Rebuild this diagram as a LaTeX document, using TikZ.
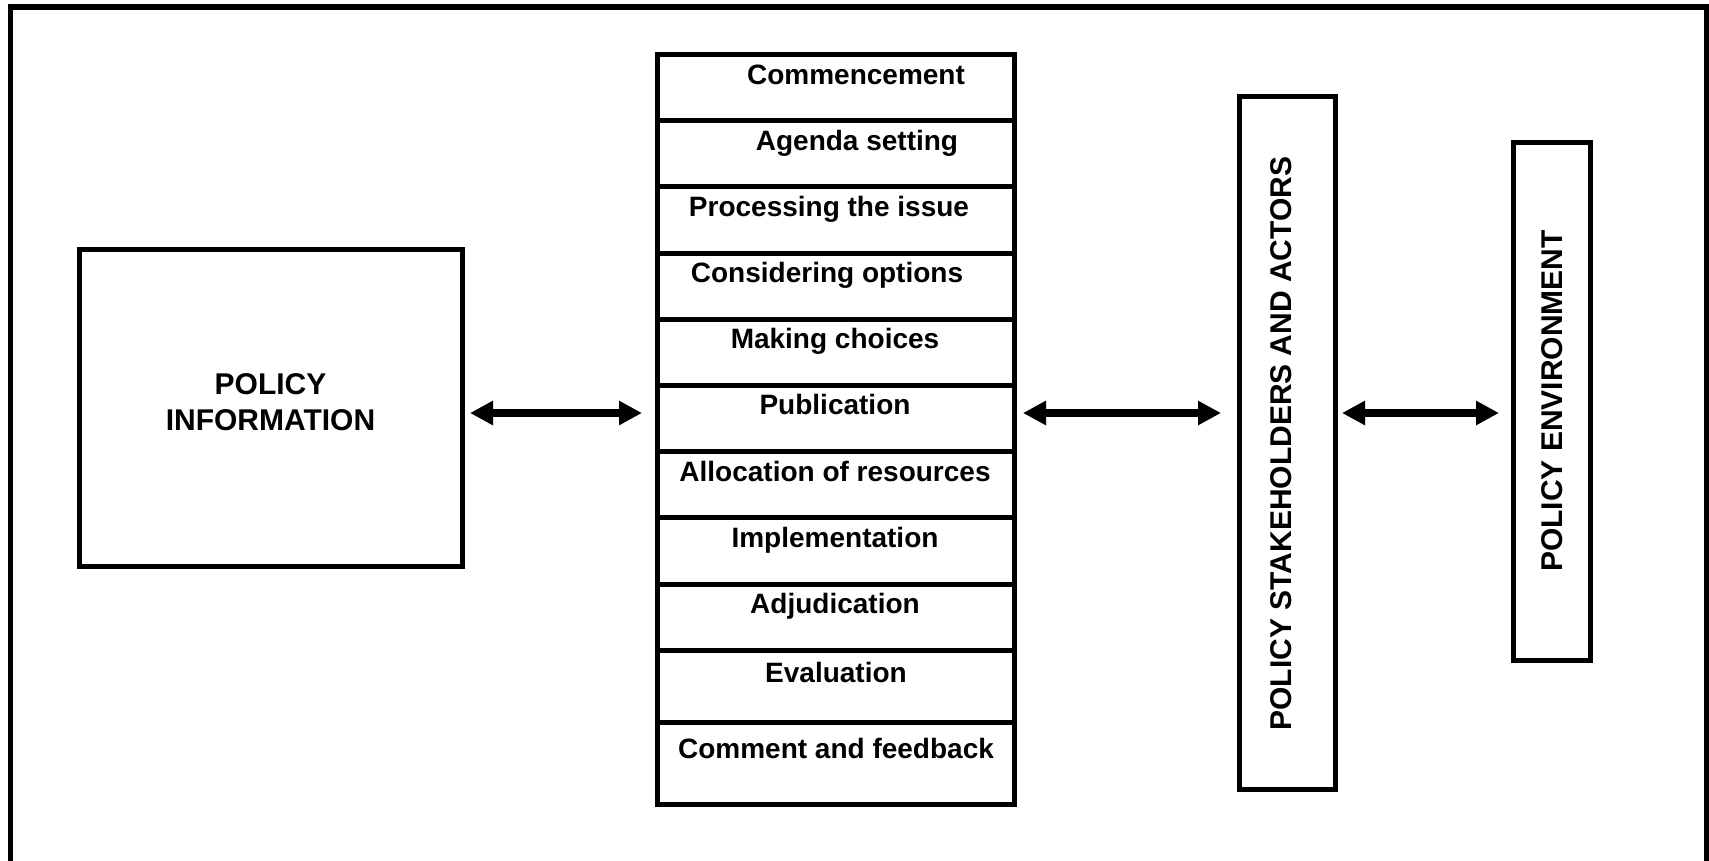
\documentclass[tikz,border=0pt]{standalone}
\usepackage{fontspec}
\setmainfont{Liberation Sans}
\usetikzlibrary{arrows.meta}
\tikzset{
  box/.style={draw, line width=5pt, inner sep=0pt, outer sep=0pt},
  rowbox/.style={box, minimum width=357pt, anchor=north west},
  rowtext/.style={anchor=base, inner sep=0pt, font=\fontsize{28}{34}\selectfont\bfseries},
  bigtext/.style={inner sep=0pt, font=\fontsize{30}{36}\selectfont\bfseries},
  dblarrow/.style={line width=7.5pt, {Triangle[length=23pt,width=23pt]}-{Triangle[length=23pt,width=23pt]}}
}
\begin{document}
\begin{tikzpicture}[x=1pt,y=-1pt]
\useasboundingbox (0,0) rectangle (1709,861);
% outer frame (bottom edge lies outside the picture)
\begin{scope}
\clip (0,0) rectangle (1709,861);
\draw[line width=5.5pt] (10.7,7) rectangle (1707,900);
\end{scope}

% policy information box
\node[box, minimum width=383pt, minimum height=316pt] (info) at (270.5,408) {};
\node[bigtext, align=center] (infotext) at (270.5,402) {POLICY\\INFORMATION};

% stack of stages
\node[rowbox, minimum height=66pt] (r1)  at (657,55)  {};
\node[rowbox, minimum height=66pt] (r2)  at (657,121) {};
\node[rowbox, minimum height=67pt] (r3)  at (657,187) {};
\node[rowbox, minimum height=65pt] (r4)  at (657,254) {};
\node[rowbox, minimum height=66pt] (r5)  at (657,319) {};
\node[rowbox, minimum height=66pt] (r6)  at (657,385) {};
\node[rowbox, minimum height=66pt] (r7)  at (657,451) {};
\node[rowbox, minimum height=67pt] (r8)  at (657,517) {};
\node[rowbox, minimum height=66pt] (r9)  at (657,584) {};
\node[rowbox, minimum height=72pt] (r10) at (657,650) {};
\node[rowbox, minimum height=82pt] (r11) at (657,722) {};

\node[rowtext] (t1)  at (856,85)  {Commencement};
\node[rowtext] (t2)  at (857,151) {Agenda setting};
\node[rowtext] (t3)  at (829,217) {Processing the issue};
\node[rowtext] (t4)  at (827,283) {Considering options};
\node[rowtext] (t5)  at (835,348) {Making choices};
\node[rowtext] (t6)  at (835,414) {Publication};
\node[rowtext] (t7)  at (835,481) {Allocation of resources};
\node[rowtext] (t8)  at (835,547) {Implementation};
\node[rowtext] (t9)  at (835,613) {Adjudication};
\node[rowtext] (t10) at (836,682) {Evaluation};
\node[rowtext] (t11) at (836,758) {Comment and feedback};

% stakeholders box
\node[box, minimum width=96pt, minimum height=692pt] (stake) at (1287,443) {};
\node[bigtext, rotate=90, anchor=base] (staketext) at (1291,443.5) {POLICY STAKEHOLDERS AND ACTORS};

% environment box
\node[box, minimum width=77pt, minimum height=517pt] (env) at (1551.5,401.5) {};
\node[bigtext, rotate=90, anchor=base] (envtext) at (1562.5,401) {POLICY ENVIRONMENT};

% arrows
\coordinate (ay) at (0,413);
\draw[dblarrow, shorten <=8pt, shorten >=15pt] (info.east |- ay) -- (r6.west |- ay);
\draw[dblarrow, shorten <=9pt, shorten >=18pt] (r6.east |- ay) -- (stake.west |- ay);
\draw[dblarrow, shorten <=7pt, shorten >=14pt] (stake.east |- ay) -- (env.west |- ay);
\end{tikzpicture}
\end{document}
